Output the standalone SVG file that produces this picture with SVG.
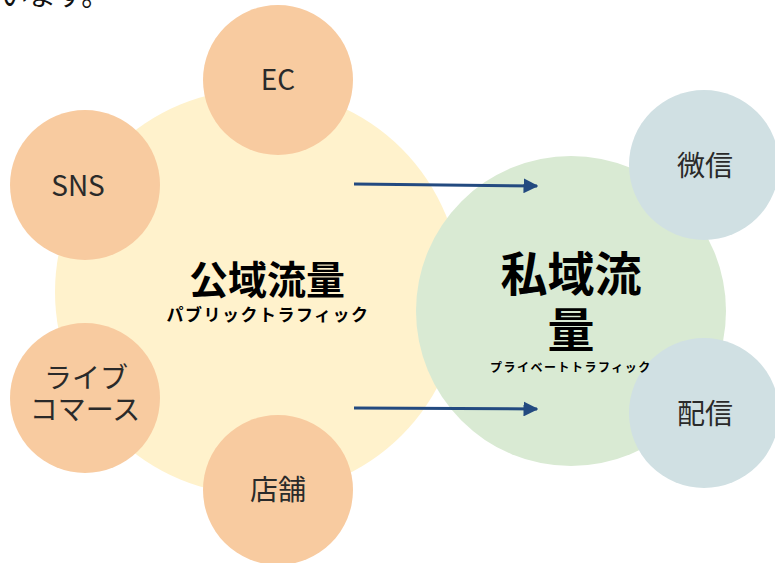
<svg xmlns="http://www.w3.org/2000/svg" width="775" height="563" viewBox="0 0 775 563">
<style>
.t{font-family:"Noto Sans CJK JP","Noto Sans",sans-serif;fill:#2a2a2a;text-anchor:middle}
.lbl{font-size:28px}
.orange{fill:#F8CBA0}
.blue{fill:#D0E0E3}
.b{font-weight:bold;fill:#000}
</style>
<defs>
<marker id="ah" viewBox="0 0 10 10" refX="9" refY="5" markerWidth="5" markerHeight="5" orient="auto" markerUnits="strokeWidth">
<path d="M0,0 L10,5 L0,10 z" fill="#234A80"/>
</marker>
</defs>
<text x="0" y="6" class="t" style="text-anchor:start;font-size:28px;fill:#111">います。</text>
<g id="public"><circle cx="258" cy="292" r="203" fill="#FFF2CC"/></g>
<g id="private"><circle cx="571" cy="311" r="155" fill="#D9EAD3"/></g>
<g id="ec"><circle cx="278" cy="80" r="75" class="orange"/><text x="278" y="90" class="t lbl">EC</text></g>
<g id="sns"><circle cx="85" cy="185" r="75" class="orange"/><text x="78" y="196" class="t lbl">SNS</text></g>
<g id="live"><circle cx="85" cy="398" r="75" class="orange"/><text x="86" y="388" class="t lbl">ライブ</text><text x="85" y="420" class="t lbl">コマース</text></g>
<g id="shop"><circle cx="278" cy="490" r="75" class="orange"/><text x="278" y="500" class="t lbl">店舗</text></g>
<g id="wechat"><circle cx="704" cy="165" r="75" class="blue"/><text x="705" y="176" class="t lbl">微信</text></g>
<g id="delivery"><circle cx="704" cy="413" r="75" class="blue"/><text x="705" y="424" class="t lbl">配信</text></g>
<g id="public-label"><text x="267" y="294" class="t b" style="font-size:39px">公域流量</text><text x="268" y="321" class="t b" style="font-size:17px;letter-spacing:1.5px">パブリックトラフィック</text></g>
<g id="private-label"><text x="571" y="291" class="t b" style="font-size:47px">私域流</text><text x="571" y="347" class="t b" style="font-size:47px">量</text><text x="571" y="372" class="t b" style="font-size:12px;letter-spacing:1.5px">プライベートトラフィック</text></g>
<g id="connectors" stroke="#234A80" stroke-width="3" fill="none">
<line x1="354" y1="184" x2="537" y2="186" marker-end="url(#ah)"/>
<line x1="354" y1="408" x2="537" y2="409" marker-end="url(#ah)"/>
</g>
</svg>
